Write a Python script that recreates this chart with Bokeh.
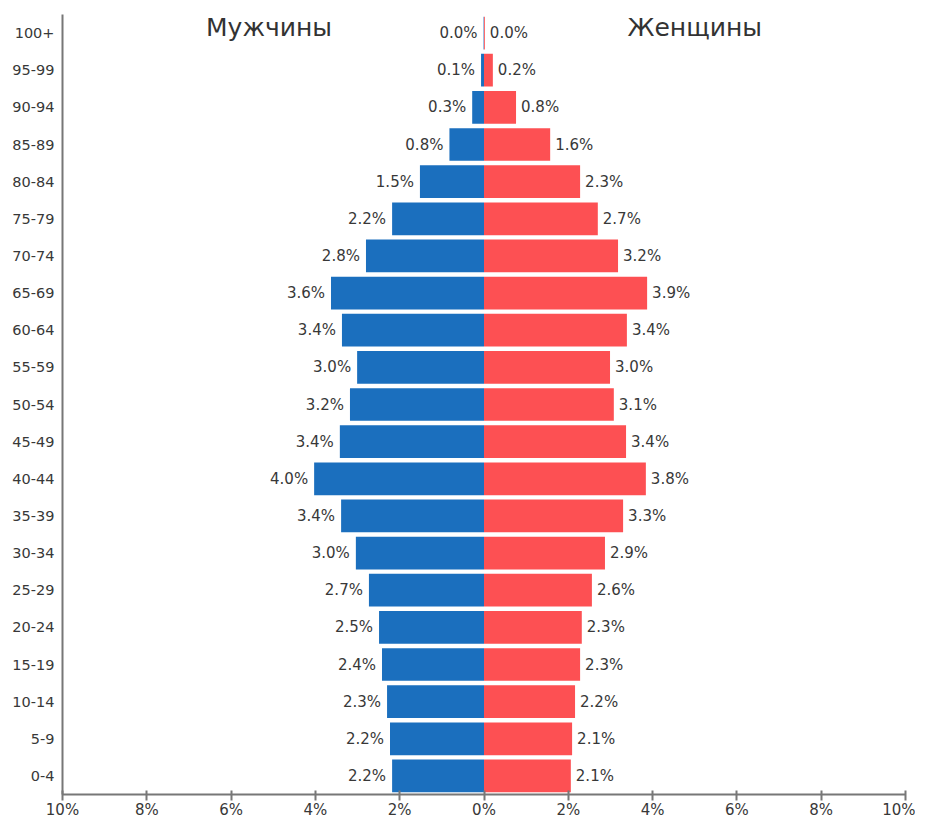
from bokeh.plotting import figure
from bokeh.models import FactorRange, FixedTicker, ColumnDataSource
from bokeh.core.properties import value
from bokeh.embed import file_html
from bokeh.resources import INLINE

ages = ["0-4", "5-9", "10-14", "15-19", "20-24", "25-29", "30-34", "35-39",
        "40-44", "45-49", "50-54", "55-59", "60-64", "65-69", "70-74", "75-79",
        "80-84", "85-89", "90-94", "95-99", "100+"]
male = [2.18, 2.23, 2.30, 2.42, 2.49, 2.73, 3.04, 3.39, 4.03, 3.42, 3.18, 3.01,
        3.37, 3.63, 2.80, 2.18, 1.52, 0.82, 0.28, 0.07, 0.01]
female = [2.06, 2.09, 2.16, 2.28, 2.32, 2.56, 2.87, 3.30, 3.84, 3.37, 3.08, 2.99,
          3.39, 3.87, 3.18, 2.70, 2.28, 1.57, 0.76, 0.21, 0.02]
male_labels = ["2.2%", "2.2%", "2.3%", "2.4%", "2.5%", "2.7%", "3.0%", "3.4%",
               "4.0%", "3.4%", "3.2%", "3.0%", "3.4%", "3.6%", "2.8%", "2.2%",
               "1.5%", "0.8%", "0.3%", "0.1%", "0.0%"]
female_labels = ["2.1%", "2.1%", "2.2%", "2.3%", "2.3%", "2.6%", "2.9%", "3.3%",
                 "3.8%", "3.4%", "3.1%", "3.0%", "3.4%", "3.9%", "3.2%", "2.7%",
                 "2.3%", "1.6%", "0.8%", "0.2%", "0.0%"]
x_ticks = [-10, -8, -6, -4, -2, 0, 2, 4, 6, 8, 10]
x_tick_labels = ["10%", "8%", "6%", "4%", "2%", "0%", "2%", "4%", "6%", "8%", "10%"]
titles = ["Мужчины", "Женщины"]
title_x = [-5.1, 5.0]

FONT = "DejaVu Sans"

src = ColumnDataSource(dict(
    age=ages,
    male_neg=[-v for v in male],
    female=female,
    male_lab=male_labels,
    female_lab=female_labels,
    zero=[0] * len(ages),
))

p = figure(width=915, height=821, output_backend="svg", toolbar_location=None,
           x_range=(-10, 10), y_range=FactorRange(factors=ages, range_padding=0),
           min_border_left=62, min_border_right=10, min_border_top=14,
           min_border_bottom=22)
p.outline_line_color = None
p.grid.grid_line_color = None
p.background_fill_color = "white"

p.hbar(y="age", left="male_neg", right="zero", height=0.88, source=src,
       fill_color="#1b6fbe", line_color=None)
p.hbar(y="age", left="zero", right="female", height=0.88, source=src,
       fill_color="#fd5053", line_color=None)

p.text(x="male_neg", y="age", text="male_lab", source=src,
       text_align="right", text_baseline="middle", x_offset=-6,
       text_font=value(FONT), text_font_size="15px", text_color="#383838")
p.text(x="female", y="age", text="female_lab", source=src,
       text_align="left", text_baseline="middle", x_offset=5,
       text_font=value(FONT), text_font_size="15px", text_color="#383838")

tsrc = ColumnDataSource(dict(x=title_x, y=[ages[-1]] * 2, t=titles))
p.text(x="x", y="y", text="t", source=tsrc, text_align="center",
       text_baseline="middle", y_offset=-6, text_font=value(FONT),
       text_font_size="25px", text_color="#333333")

xa = p.xaxis[0]
xa.ticker = FixedTicker(ticks=x_ticks)
xa.major_label_overrides = {t: l for t, l in zip(x_ticks, x_tick_labels)}
xa.minor_tick_line_color = None
xa.axis_line_color = "#777777"
xa.axis_line_width = 2
xa.major_tick_line_color = "#777777"
xa.major_tick_line_width = 2
xa.major_tick_in = 4
xa.major_tick_out = 6
xa.major_label_standoff = 0
xa.major_label_text_font = FONT
xa.major_label_text_font_size = "15px"
xa.major_label_text_color = "#383838"

ya = p.yaxis[0]
ya.axis_line_color = "#777777"
ya.axis_line_width = 2
ya.major_tick_line_color = None
ya.minor_tick_line_color = None
ya.major_label_standoff = 2
ya.major_label_text_font = FONT
ya.major_label_text_font_size = "14.5px"
ya.major_label_text_color = "#383838"

open("out.html", "w").write(file_html(p, INLINE))
